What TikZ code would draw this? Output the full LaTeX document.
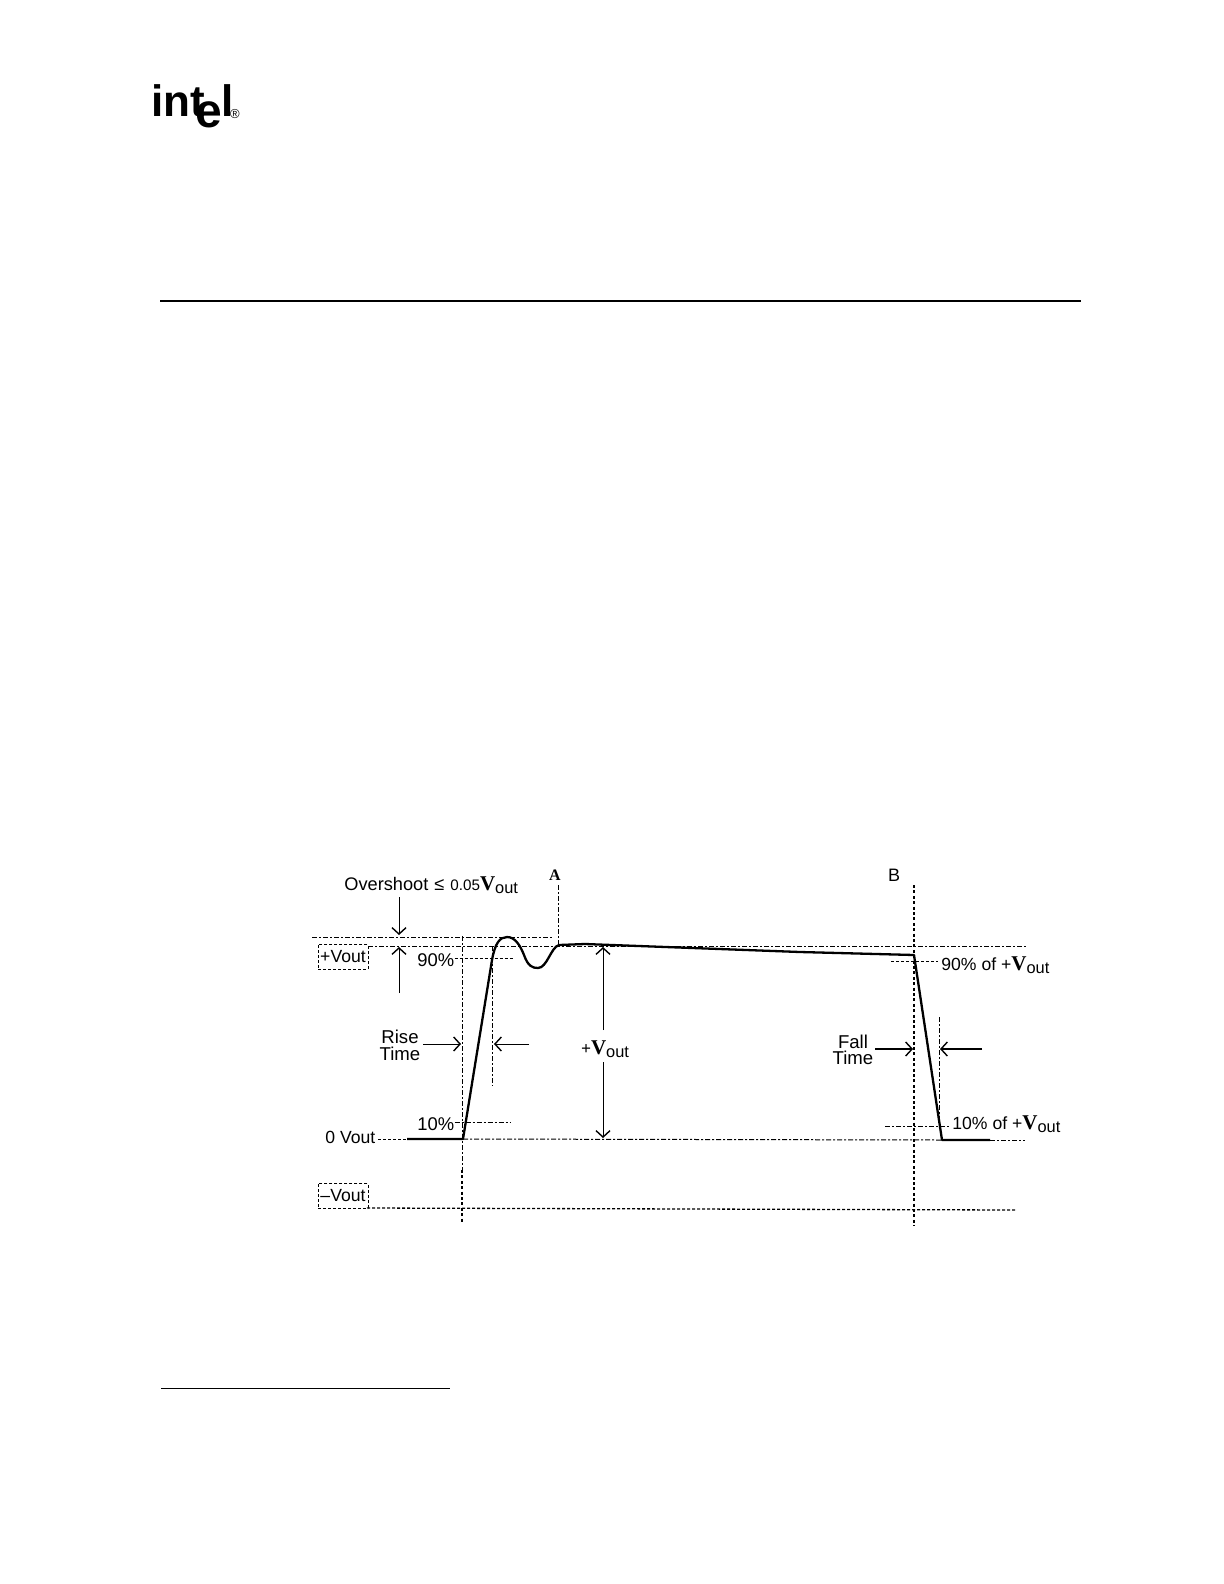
\documentclass[tikz,border=0pt]{standalone}
\usepackage{fontspec}
\setmainfont{Liberation Sans}
\newfontfamily\serifv{Liberation Serif}
\usetikzlibrary{arrows.meta}
\newcommand{\voutlabel}{{\serifv\bfseries\fontsize{10.5}{11}\selectfont V}\raisebox{-1.6pt}{\fontsize{8.2}{8.6}\selectfont out}}
\tikzset{
  lab/.style={inner sep=0pt,font=\fontsize{8.8}{10}\selectfont},
  dotline/.style={line width=0.5pt,dash pattern=on 1.5pt off 1pt},
  dashdot/.style={line width=0.5pt,dash pattern=on 2.5pt off 1pt on 1pt off 1pt},
  heavydot/.style={line width=0.9pt,dash pattern=on 1.5pt off 1.2pt},
  meddot/.style={line width=0.65pt,dash pattern=on 1.5pt off 1pt},
  wave/.style={line width=1.15pt,line join=round},
  dimarrow/.style={line width=0.5pt,-{Straight Barb[length=3.2pt,width=7pt,line width=0.7pt]}},
  boxd/.style={draw,line width=0.5pt,dash pattern=on 1.5pt off 1pt,minimum width=25pt,minimum height=12.2pt,inner sep=0pt,font=\fontsize{8.8}{10}\selectfont},
  logo/.style={inner sep=0pt,font=\fontsize{22}{22}\selectfont\bfseries},
}
\begin{document}
\begin{tikzpicture}[x=0.5pt,y=-0.5pt]
\useasboundingbox (0,0) rectangle (1224,1584);
% page furniture
\node[logo,anchor=base west] (lint) at (151,117) {int};
\node[logo,anchor=base west,font=\fontsize{24}{24}\selectfont\bfseries] (le) at (195,127) {e};
\node[logo,anchor=base west] (ll) at (221,117) {l};
\node[inner sep=0pt,font=\fontsize{6.5}{6.5}\selectfont] (lreg) at (235,114) {®};
\coordinate (ruleL) at (160,301); \coordinate (ruleR) at (1081,301);
\draw[line width=1.4pt] (ruleL) -- (ruleR);
\coordinate (footL) at (161,1388); \coordinate (footR) at (450,1388);
\draw[line width=0.5pt] (footL) -- (footR);
% coordinates
\coordinate (a1) at (312,937); \coordinate (a2) at (552,937);
\coordinate (b1) at (368,946); \coordinate (b2) at (1027,946);
\coordinate (v1t) at (462,936); \coordinate (v1m) at (462,1170); \coordinate (v1b) at (462,1224);
\coordinate (v2t) at (492,946); \coordinate (v2b) at (492,1086);
\coordinate (vAt) at (558,885); \coordinate (vAb) at (558,944);
\coordinate (vBt) at (914,885); \coordinate (vBb) at (914,1226);
\coordinate (v3t) at (939,1017); \coordinate (v3b) at (939,1125);
\coordinate (z0) at (378,1139); \coordinate (z1) at (407,1139);
\coordinate (z2) at (463,1139); \coordinate (z3) at (942,1140); \coordinate (z4) at (990,1140); \coordinate (z5) at (1025,1140);
\coordinate (m1) at (368,1208); \coordinate (m2) at (1015,1210);
\coordinate (c90) at (513,958); \coordinate (c10) at (510,1122);
\coordinate (d90a) at (891,961); \coordinate (d90b) at (938,961);
\coordinate (d10a) at (885,1126); \coordinate (d10b) at (950,1126);
% text labels
\node[lab,anchor=west,font=\fontsize{9.1}{10}\selectfont] (over) at (344,885) {Overshoot\,\,≤\,\,{\fontsize{7.6}{8}\selectfont 0.05}\voutlabel};
\node[inner sep=0pt,font=\fontsize{8}{8}\selectfont\serifv\bfseries] (lA) at (555,875) {A};
\node[inner sep=0pt,font=\fontsize{9}{9}\selectfont] (lB) at (894,875) {B};
\node[boxd] (pv) at (343,957) {+Vout};
\node[boxd] (nv) at (343,1196) {--Vout};
\node[lab,anchor=west,font=\fontsize{9.2}{10}\selectfont] (n90) at (417,960) {90\%};
\node[lab,anchor=west,font=\fontsize{9.2}{10}\selectfont] (n10) at (417,1124) {10\%};
\node[lab,anchor=west] (zv) at (325,1137) {0 Vout};
\node[lab,align=center,font=\fontsize{9.3}{8.4}\selectfont] (rise) at (400,1045) {Rise\\Time};
\node[lab,align=center,font=\fontsize{9.3}{8.2}\selectfont] (fall) at (853,1050) {Fall\\Time};
\node[lab,anchor=west] (n90o) at (941,965) {90\% of +\voutlabel};
\node[lab,anchor=west] (n10o) at (952,1124) {10\% of +\voutlabel};
\node[lab] (pvl) at (605,1049) {{\serifv\bfseries +}\voutlabel};
% reference lines
\draw[dashdot] (a1) -- (a2);
\draw[dashdot] (b1) -- (b2);
\draw[dashdot] (v1t) -- (v1m);
\draw[heavydot] (v1m) -- (v1b);
\draw[dashdot] (v2t) -- (v2b);
\draw[dashdot] (vAt) -- (vAb);
\draw[heavydot] (vBt) -- (vBb);
\draw[dashdot] (v3t) -- (v3b);
\draw[dotline] (z0) -- (z1);
\draw[dashdot] (z2) -- (z3);
\draw[dashdot] (z4) -- (z5);
\draw[meddot] (nv.south east) -- (m1) -- (m2);
\draw[dotline] (n90.east |- c90) -- (c90);
\draw[dashdot] (n10.east |- c10) -- (c10);
\draw[dotline] (d90a) -- (d90b);
\draw[dashdot] (d10a) -- (d10b);
% waveform
\draw[wave] (z1) -- (z2) -- (492,960)
  .. controls (495,943) and (500,937) .. (507,937)
  .. controls (515,937) and (520,945) .. (524,955)
  .. controls (528,966) and (532,968) .. (538,968)
  .. controls (547,968) and (551,947) .. (559,945)
  -- (585,944) -- (800,952) -- (914,955) -- (942,1140) -- (z4);
% dimension arrows
\coordinate (ovT) at (399,897); \coordinate (ovH) at (399,935);
\coordinate (ovB) at (399,993); \coordinate (ovU) at (399,947);
\coordinate (rl) at (423,1044); \coordinate (rlh) at (461,1044);
\coordinate (rr) at (529,1044); \coordinate (rrh) at (494,1044);
\coordinate (vt) at (603,1030); \coordinate (vth) at (603,947);
\coordinate (vb) at (603,1062); \coordinate (vbh) at (603,1138);
\coordinate (fl) at (875,1049); \coordinate (flh) at (913,1049);
\coordinate (fr) at (982,1049); \coordinate (frh) at (940,1049);
\draw[dimarrow] (ovT) -- (ovH);
\draw[dimarrow] (ovB) -- (ovU);
\draw[dimarrow] (rl) -- (rlh);
\draw[dimarrow] (rr) -- (rrh);
\draw[dimarrow] (vt) -- (vth);
\draw[dimarrow] (vb) -- (vbh);
\draw[dimarrow,line width=0.9pt] (fl) -- (flh);
\draw[dimarrow,line width=0.9pt] (fr) -- (frh);
\end{tikzpicture}
\end{document}
